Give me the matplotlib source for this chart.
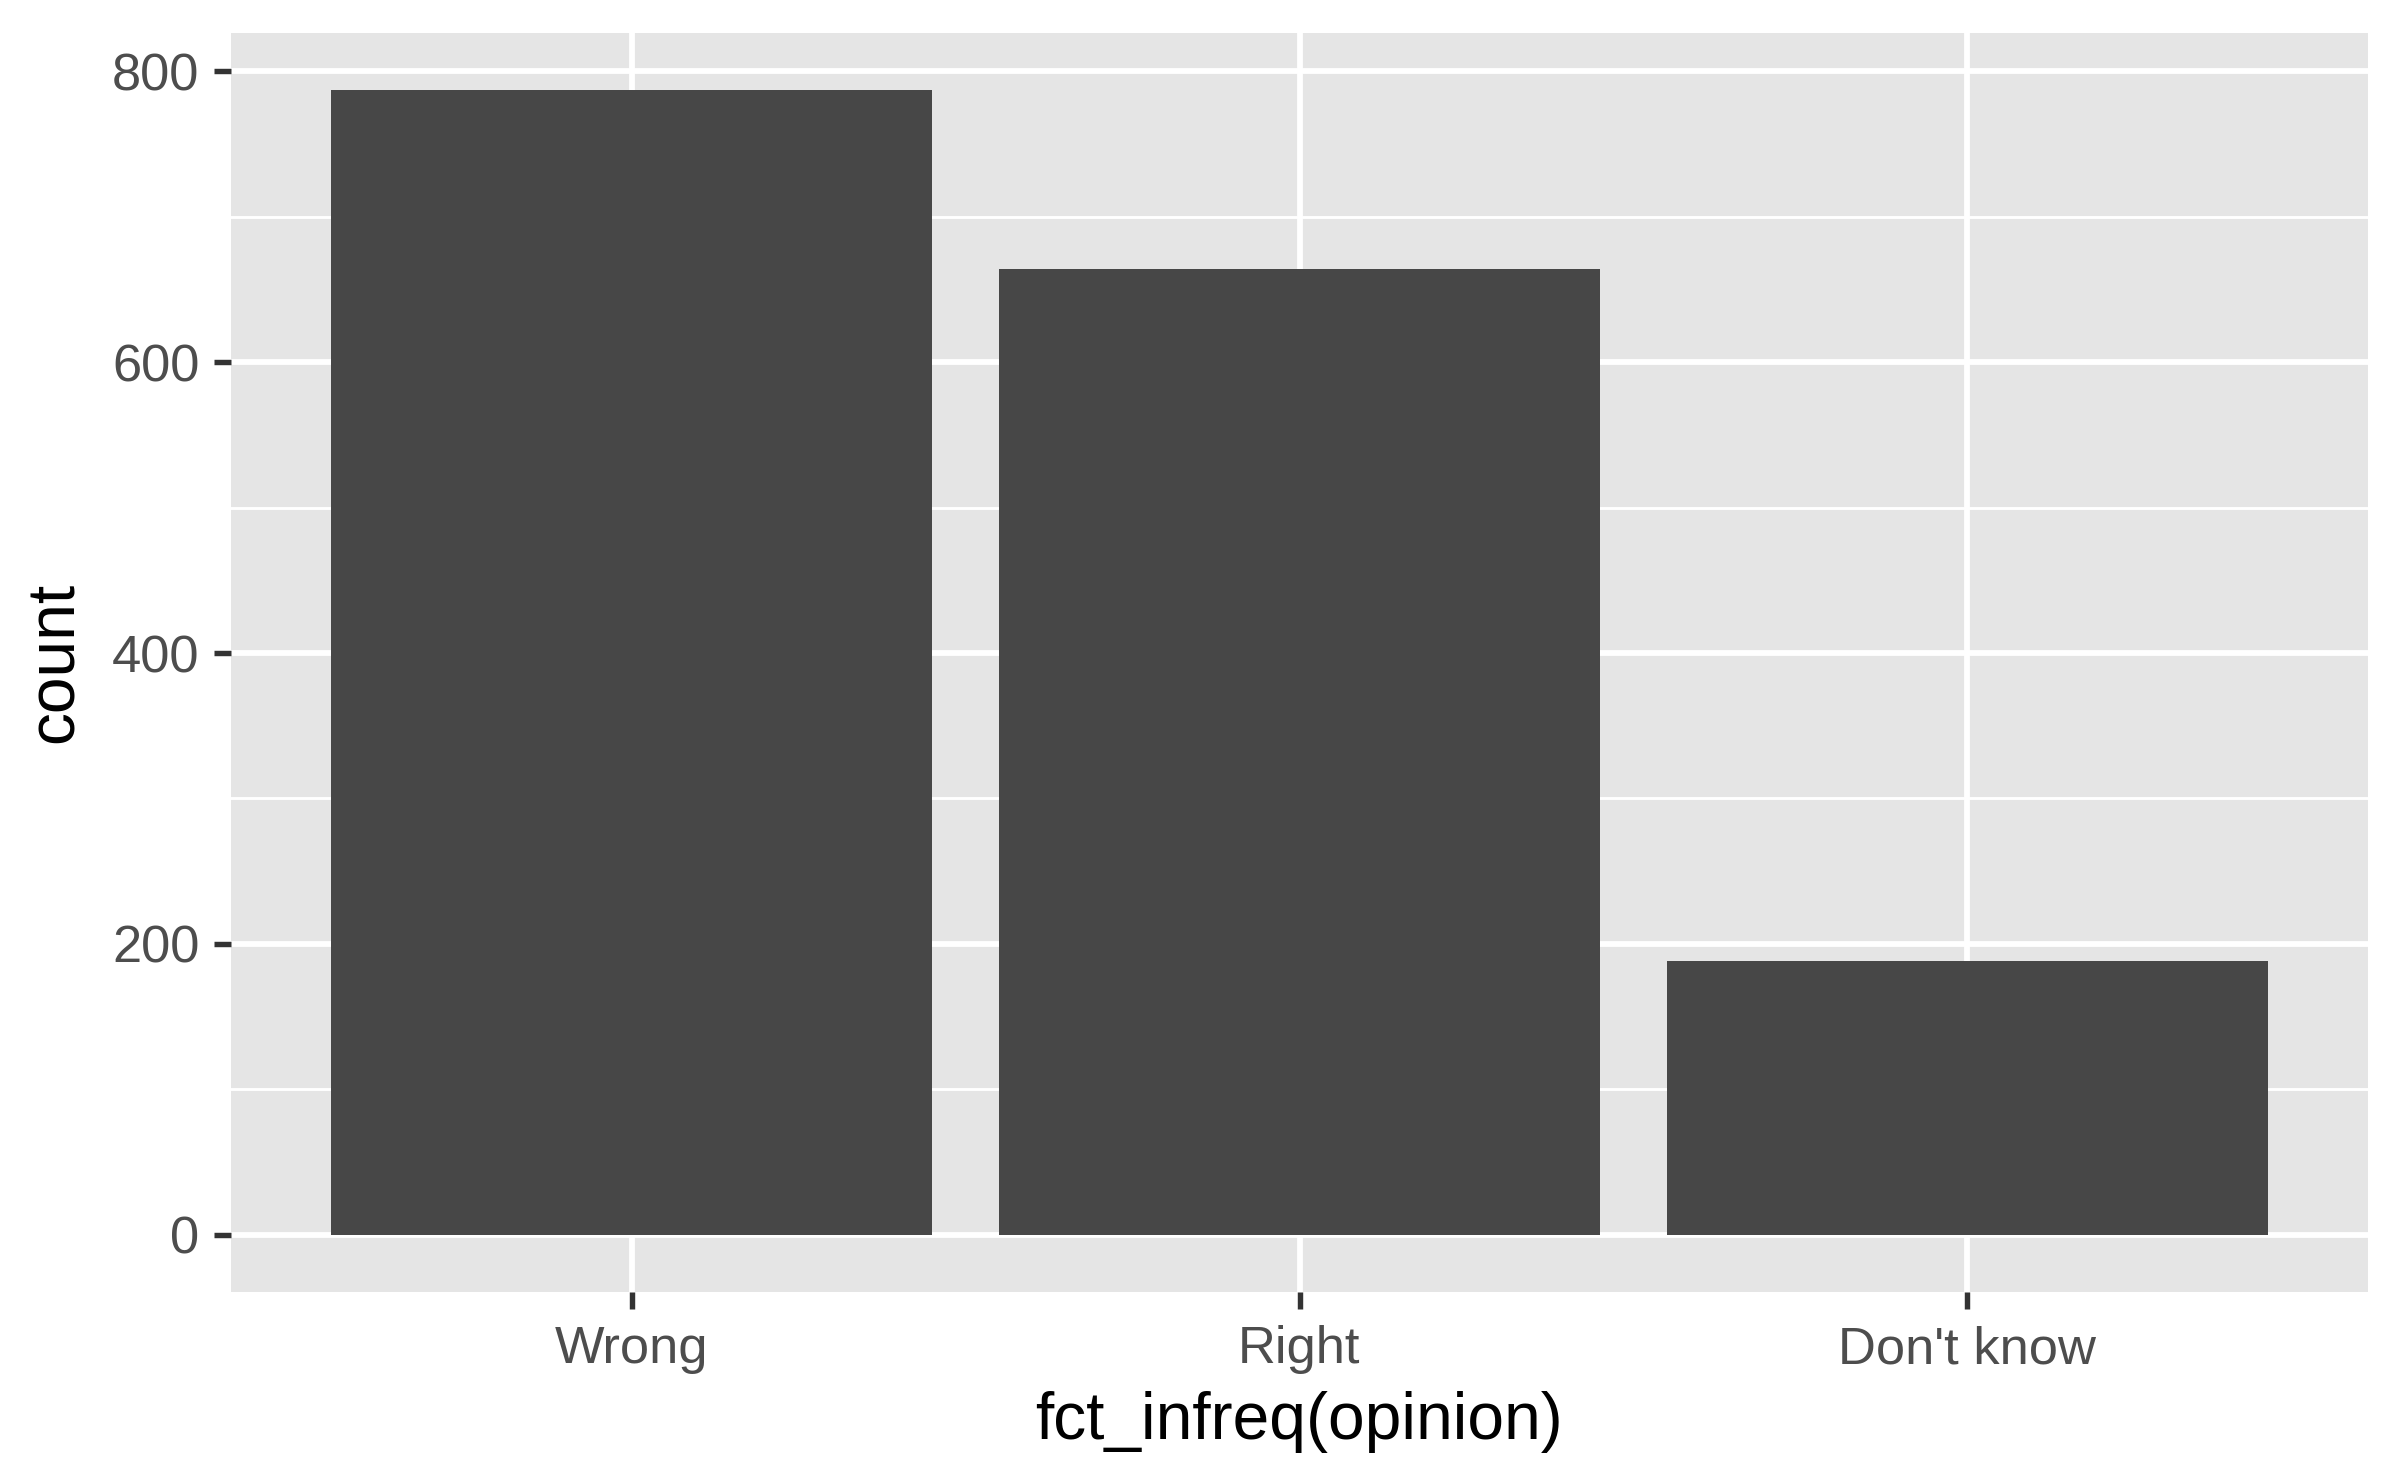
import matplotlib
matplotlib.use("Agg")
import matplotlib.pyplot as plt
from matplotlib.ticker import MultipleLocator

categories = ["Wrong", "Right", "Don't know"]
counts = [787, 664, 188]
y_ticks = [0, 200, 400, 600, 800]

plt.rcParams['font.family'] = ['Liberation Sans', 'DejaVu Sans']

fig = plt.figure(figsize=(8, 1483 / 300), dpi=300)
ax = fig.add_axes([231 / 2400, 1 - 1292 / 1483, (2368 - 231) / 2400, (1292 - 33) / 1483])
ax.set_facecolor('#E5E5E5')

x = list(range(1, len(categories) + 1))
ax.bar(x, counts, width=0.9, color='#474747', zorder=3)

ymax = max(counts)
ax.set_ylim(-0.05 * ymax, 1.05 * ymax)
ax.set_xlim(0.4, 3.6)
ax.set_xticks(x)
ax.set_xticklabels(categories)
ax.set_yticks(y_ticks)
ax.yaxis.set_minor_locator(MultipleLocator(100))

ax.grid(which='major', color='white', linewidth=1.4, zorder=1)
ax.grid(which='minor', axis='y', color='white', linewidth=0.7, zorder=1)
ax.set_axisbelow(True)
for s in ax.spines.values():
    s.set_visible(False)

ax.tick_params(axis='both', which='major', length=4, width=1.3, color='#333333',
               labelsize=12.6, labelcolor='#4D4D4D')
ax.tick_params(axis='x', pad=4.0)
ax.tick_params(axis='y', pad=3.6)
ax.tick_params(axis='y', which='minor', length=0)

ax.set_xlabel('fct_infreq(opinion)', fontsize=15.8, color='black', labelpad=4)
ax.set_ylabel('count', fontsize=15.8, color='black', labelpad=6)

fig.savefig('out.png', dpi=300, facecolor='white')
